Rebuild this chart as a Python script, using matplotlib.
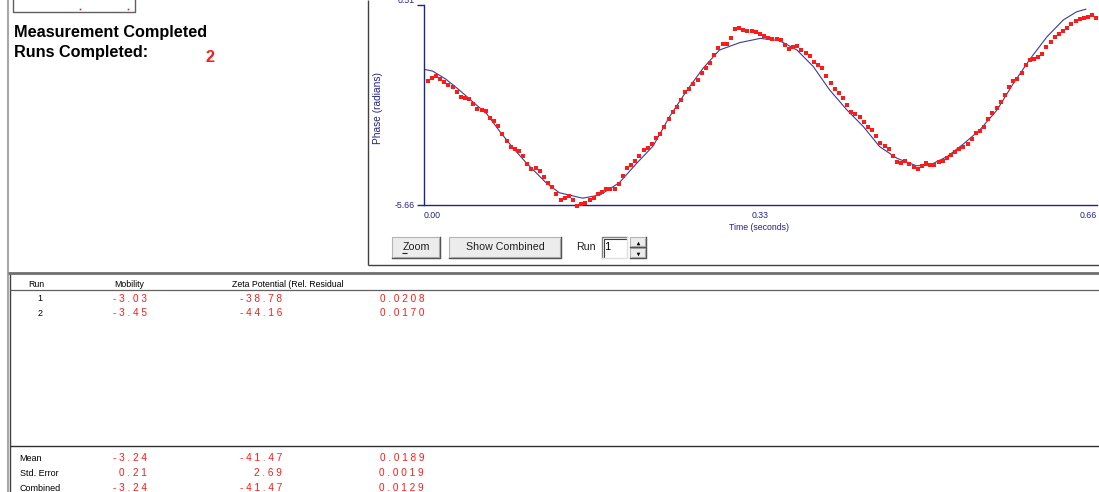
import numpy as np
import matplotlib.pyplot as plt
from matplotlib.axes import Axes
from matplotlib.patches import Rectangle

plt.rcParams["font.family"] = ["Liberation Sans", "DejaVu Sans"]

W, H = 1099, 492

# phase samples of run 1 (radians), one every sample_dt seconds
sample_dt = 0.00407
phase_measured = [
    -1.83, -1.74, -1.69, -1.77, -1.87, -1.96, -2.03, -2.17, -2.32, -2.37,
    -2.39, -2.55, -2.70, -2.74, -2.75, -2.97, -3.08, -3.22, -3.47, -3.70,
    -3.86, -3.94, -3.99, -4.14, -4.40, -4.55, -4.53, -4.60, -4.80, -4.97,
    -5.10, -5.31, -5.51, -5.45, -5.38, -5.51, -5.68, -5.64, -5.60, -5.51,
    -5.44, -5.33, -5.27, -5.18, -5.18, -5.18, -5.00, -4.77, -4.53, -4.42,
    -4.30, -4.14, -3.97, -3.90, -3.79, -3.59, -3.46, -3.26, -3.00, -2.78,
    -2.65, -2.42, -2.17, -2.07, -1.94, -1.80, -1.60, -1.42, -1.27, -1.03,
    -0.83, -0.70, -0.68, -0.52, -0.24, -0.19, -0.25, -0.30, -0.28, -0.31,
    -0.38, -0.46, -0.50, -0.53, -0.55, -0.57, -0.72, -0.85, -0.79, -0.76,
    -0.87, -0.96, -1.07, -1.26, -1.33, -1.44, -1.69, -1.91, -2.07, -2.21,
    -2.37, -2.58, -2.80, -2.86, -2.95, -3.11, -3.24, -3.36, -3.54, -3.76,
    -3.84, -3.94, -4.15, -4.34, -4.36, -4.31, -4.39, -4.50, -4.55, -4.46,
    -4.35, -4.42, -4.44, -4.33, -4.31, -4.21, -4.13, -4.03, -3.92, -3.86,
    -3.79, -3.61, -3.45, -3.37, -3.24, -3.02, -2.81, -2.67, -2.48, -2.28,
    -2.03, -1.84, -1.76, -1.58, -1.35, -1.19, -1.15, -1.10, -1.00, -0.79,
    -0.63, -0.49, -0.38, -0.28, -0.20, -0.08, 0.03, 0.07, 0.12, 0.15,
    0.20, 0.11,
]

# fitted phase curve
fit_time = [
    0.000, 0.009, 0.022, 0.035, 0.048, 0.062, 0.075, 0.088, 0.101, 0.120,
    0.133, 0.156, 0.173, 0.192, 0.209, 0.225, 0.241, 0.258, 0.274, 0.290,
    0.310, 0.330, 0.349, 0.366, 0.382, 0.398, 0.415, 0.431, 0.447, 0.464,
    0.483, 0.496, 0.513, 0.529, 0.545, 0.562, 0.578, 0.595, 0.611, 0.627,
    0.640, 0.649,
]
fit_phase = [
    -1.47, -1.53, -1.78, -2.11, -2.47, -2.85, -3.40, -3.91, -4.37, -4.97,
    -5.28, -5.45, -5.35, -4.97, -4.37, -3.84, -2.94, -2.13, -1.44, -0.88,
    -0.65, -0.52, -0.59, -0.88, -1.39, -2.11, -2.73, -3.24, -3.86, -4.22,
    -4.45, -4.43, -4.17, -3.78, -3.35, -2.73, -1.91, -1.13, -0.47, 0.05,
    0.30, 0.38,
]
phase_min, phase_max = -5.66, 0.51
time_ticks = [0.0, 0.33, 0.66]

runs = ["1", "2"]
mobility = [-3.03, -3.45]
zeta = [-38.78, -44.16]
residual = [0.0208, 0.0170]

summary_labels = ["Mean", "Std. Error", "Combined"]
summary_mobility = [-3.24, 0.21, -3.24]
summary_zeta = [-41.47, 2.69, -41.47]
summary_residual = [0.0189, 0.0019, 0.0129]

runs_completed = 2

NAVY = "#23238c"
RED = "#ff1a1a"


def spaced(value: float, digits: int) -> str:
    return " ".join(f"{value:.{digits}f}")


def hline(ax: Axes, y: float, x0: float, x1: float, color: str, lw: float = 1.0) -> None:
    ax.plot([x0, x1], [y, y], color=color, lw=lw, solid_capstyle="butt")


def vline(ax: Axes, x: float, y0: float, y1: float, color: str, lw: float = 1.0) -> None:
    ax.plot([x, x], [y0, y1], color=color, lw=lw, solid_capstyle="butt")


def button(ax: Axes, x0: float, y0: float, x1: float, y1: float, label: str) -> None:
    ax.add_patch(Rectangle((x0, y0), x1 - x0, y1 - y0, facecolor="#ececec",
                           edgecolor="#b4b4b4", lw=0.8))
    ax.plot([x0, x1, x1], [y1, y1, y0], color="#505050", lw=1.0)
    ax.plot([x0 + 1.5, x1 - 1.5, x1 - 1.5], [y1 - 1.5, y1 - 1.5, y0 + 1.5],
            color="#a8a8a8", lw=0.8)
    if label:
        ax.text((x0 + x1) / 2, (y0 + y1) / 2, label, ha="center", va="center",
                fontsize=7.7, color="#202020")


fig = plt.figure(figsize=(W / 100, H / 100), dpi=100)
fig.patch.set_facecolor("white")

# pixel-space layer for the window furniture
ui = fig.add_axes([0, 0, 1, 1])
ui.set_xlim(0, W)
ui.set_ylim(H, 0)
ui.axis("off")

vline(ui, 7.5, 0, H, "#a8a8a8", 1.5)
vline(ui, 10, 273, H, "#404040", 1.0)
ui.plot([13, 13, 135, 135], [0, 12, 12, 0], color="#606060", lw=1.0)
ui.plot([80, 128], [9, 9], ls="none", marker="s", ms=1.2, color=RED, mew=0)

ui.text(14, 32, "Measurement Completed", ha="left", va="center",
        fontsize=11.7, fontweight="bold", color="black")
ui.text(14, 53, "Runs Completed:", ha="left", va="center",
        fontsize=11.7, fontweight="bold", color="black")
ui.text(205, 58, str(runs_completed), ha="left", va="center",
        fontsize=11.7, fontweight="bold", color=RED)

# chart panel frame
vline(ui, 367.5, 0, 265, "#404040", 1.0)
hline(ui, 265, 367.5, W, "#404040", 1.0)

button(ui, 392, 237, 440, 258, "Zoom")
hline(ui, 252.5, 401.5, 406.5, "#202020", 0.8)
button(ui, 449, 237, 561, 258, "Show Combined")
ui.text(576, 247.5, "Run", ha="left", va="center", fontsize=7.7, color="#202020")
ui.add_patch(Rectangle((602, 237), 25, 21, facecolor="white", edgecolor="none"))
ui.plot([602, 602, 627], [258, 237, 237], color="#808080", lw=1.0)
ui.plot([603.5, 603.5, 626], [257, 238.5, 238.5], color="#404040", lw=0.8)
ui.plot([602, 627, 627], [258, 258, 237], color="#e0e0e0", lw=1.0)
ui.text(604, 247.5, "1", ha="left", va="center", fontsize=8, color="black")
button(ui, 630, 237, 646, 247, "")
button(ui, 630, 248, 646, 258, "")
ui.plot([638], [242.5], marker="^", ms=2.6, color="black", mew=0)
ui.plot([638], [253.5], marker="v", ms=2.6, color="black", mew=0)

# results table
hline(ui, 272.5, 8, W, "#707070", 2.0)
hline(ui, 289.5, 10, W, "#606060", 0.9)
hline(ui, 445.5, 10, W, "#303030", 1.0)

header_y = 284.5
ui.text(36, header_y, "Run", ha="center", va="center", fontsize=6.3)
ui.text(114, header_y, "Mobility", ha="left", va="center", fontsize=6.3)
ui.text(232.5, header_y, "Zeta Potential (Rel. Residual", ha="left",
        va="center", fontsize=6.3)

col_right = [147, 282, 424]
for row, (run, m, z, r) in enumerate(zip(runs, mobility, zeta, residual)):
    y = 298.5 + 15 * row
    ui.text(40, y, run, ha="center", va="center", fontsize=6.5)
    for x, s in zip(col_right, [spaced(m, 2), spaced(z, 2), spaced(r, 4)]):
        ui.text(x, y, s, ha="right", va="center", fontsize=7.2, color=RED)

for row, (lab, m, z, r) in enumerate(
    zip(summary_labels, summary_mobility, summary_zeta, summary_residual)
):
    y = 458.3 + 15 * row
    ui.text(19.5, y, lab, ha="left", va="center", fontsize=6.5)
    for x, s in zip(col_right, [spaced(m, 2), spaced(z, 2), spaced(r, 4)]):
        ui.text(x, y, s, ha="right", va="center", fontsize=7.2, color=RED)

# phase plot
left_px, right_px, bottom_px, top_px = 423.5, 1097, 205, 5
ax = fig.add_axes([left_px / W, 1 - bottom_px / H,
                   (right_px - left_px) / W, (bottom_px - top_px) / H])
ax.patch.set_alpha(0)
sample_time = np.arange(1, len(phase_measured) + 1) * sample_dt
ax.plot(fit_time, fit_phase, color="#3b3b98", lw=0.8, zorder=2)
ax.plot(sample_time, phase_measured, ls="none", marker="s", ms=2.2, mew=0,
        color=RED, clip_on=False, zorder=3)
ax.set_xlim(0, 0.66)
ax.set_ylim(phase_min, phase_max)
for side in ("top", "right"):
    ax.spines[side].set_visible(False)
for side in ("left", "bottom"):
    ax.spines[side].set_color(NAVY)
    ax.spines[side].set_linewidth(1.0)

ax.set_yticks([phase_min, phase_max], labels=[f"{phase_min:.2f}", f"{phase_max:.2f}"])
ax.set_xticks(time_ticks, labels=[f"{t:.2f}" for t in time_ticks])
ax.tick_params(axis="y", direction="out", length=5, width=1, color=NAVY,
               labelcolor=NAVY, labelsize=6.3, pad=1)
ax.tick_params(axis="x", length=0, labelcolor=NAVY, labelsize=6.3, pad=4)
ax.get_yticklabels()[-1].set_va("bottom")
xlabels = ax.get_xticklabels()
xlabels[0].set_ha("left")
xlabels[-1].set_ha("right")

ax.set_xlabel("Time (seconds)", color=NAVY, fontsize=6.3, va="center")
ax.xaxis.set_label_coords(0.498, -0.1125)
ax.set_ylabel("Phase (radians)", color=NAVY, fontsize=7.3, va="center")
ax.yaxis.set_label_coords(-0.0676, 0.485)

fig.savefig("out.png", dpi=100)
